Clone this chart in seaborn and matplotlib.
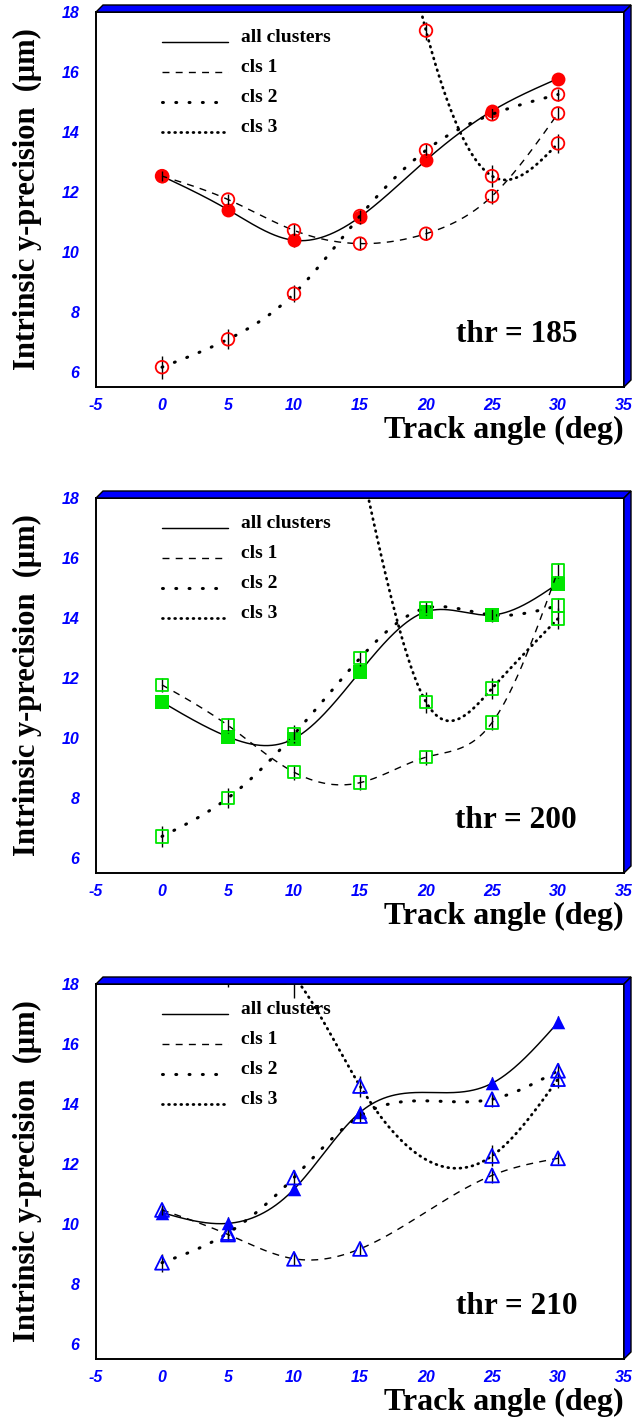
import numpy as np
import pandas as pd
import matplotlib
matplotlib.use("Agg")
import matplotlib.pyplot as plt
import seaborn as sns
from matplotlib.patches import Polygon
from matplotlib.ticker import MultipleLocator

# ---------------------------------------------------------------- data
angles = [0, 5, 10, 15, 20, 25, 30]

# thr = 185
t185_all = [12.53, 11.41, 10.39, 11.17, 13.06, 14.70, 15.78]
t185_all_err = [0.18, 0.20, 0.22, 0.18, 0.18, 0.18, 0.18]
t185_cls1 = [12.53, 11.75, 10.72, 10.28, 10.61, 11.86, 14.62]
t185_cls1_err = [0.18, 0.20, 0.20, 0.22, 0.20, 0.25, 0.20]
t185_cls2 = [6.16, 7.09, 8.61, 11.20, 13.39, 14.59, 15.25]
t185_cls2_err = [0.39, 0.33, 0.28, 0.25, 0.22, 0.20, 0.20]
t185_cls3_x = [15, 20, 25, 30]
t185_cls3 = [28.0, 17.38, 12.53, 13.62]
t185_cls3_err = [2.0, 0.30, 0.36, 0.33]

# thr = 200
t200_all = [11.20, 10.04, 9.98, 12.21, 14.21, 14.10, 15.15]
t200_all_err = [0.20, 0.20, 0.22, 0.20, 0.18, 0.18, 0.20]
t200_cls1 = [11.77, 10.42, 8.86, 8.51, 9.36, 10.51, 15.58]
t200_cls1_err = [0.22, 0.25, 0.25, 0.25, 0.25, 0.25, 0.25]
t200_cls2 = [6.72, 8.00, 10.12, 12.66, 14.33, 14.10, 14.41]
t200_cls2_err = [0.35, 0.32, 0.30, 0.25, 0.22, 0.22, 0.25]
t200_cls3_x = [15, 20, 25, 30]
t200_cls3 = [19.3, 11.20, 11.65, 13.98]
t200_cls3_err = [1.0, 0.35, 0.35, 0.35]

# thr = 210 (no measurement at 20 deg)
t210_x = [0, 5, 10, 15, 25, 30]
t210_all = [10.38, 10.02, 11.16, 13.72, 14.69, 16.72]
t210_all_err = [0.18, 0.20, 0.20, 0.20, 0.20, 0.20]
t210_cls1 = [10.47, 9.65, 8.84, 9.17, 11.62, 12.19]
t210_cls1_err = [0.18, 0.20, 0.20, 0.20, 0.25, 0.20]
t210_cls2 = [8.71, 9.70, 11.55, 13.60, 14.16, 15.11]
t210_cls2_err = [0.30, 0.25, 0.25, 0.22, 0.25, 0.25]
t210_cls3_x = [5, 10, 15, 25, 30]
t210_cls3 = [19.6, 18.25, 14.60, 12.27, 14.83]
t210_cls3_err = [1.7, 0.70, 0.35, 0.35, 0.30]

thresholds = ["185", "200", "210"]
series_names = ["all clusters", "cls 1", "cls 2", "cls 3"]
panel_colors = ["#ff0000", "#00e600", "#0000ff"]
panel_markers = ["o", "s", "^"]

x_ticks = [-5, 0, 5, 10, 15, 20, 25, 30, 35]
y_ticks = [6, 8, 10, 12, 14, 16, 18]

# ---------------------------------------------------------------- style
sns.set_style("white")
plt.rcParams["font.family"] = ["Liberation Serif", "DejaVu Serif"]
plt.rcParams["text.color"] = "black"
plt.rcParams["axes.labelcolor"] = "black"
plt.rcParams["axes.unicode_minus"] = False

FIG_W, FIG_H = 636, 1427
AX_L, AX_R, AX_H = 96, 624, 375
AX_TOPS = [12, 498, 984]
DEPTH = 7
X_LIM = (-5, 35)
Y_LIM = (5.5, 18)

line_styles = {
    "all clusters": dict(ls="-", lw=1.05),
    "cls 1": dict(ls=(0, (5, 4.5)), lw=1.0),
    "cls 2": dict(ls=(0, (0.3, 4.05)), lw=2.2, dash_capstyle="round"),
    "cls 3": dict(ls=(0, (0.3, 1.9)), lw=2.0, dash_capstyle="round"),
}


def natural_spline(t, v, tt):
    """Natural cubic spline through (t, v), evaluated at tt."""
    t = np.asarray(t, float)
    v = np.asarray(v, float)
    n = len(t)
    if n < 3:
        return np.interp(tt, t, v)
    h = np.diff(t)
    A = np.zeros((n, n))
    b = np.zeros(n)
    A[0, 0] = A[-1, -1] = 1.0
    for i in range(1, n - 1):
        A[i, i - 1] = h[i - 1]
        A[i, i] = 2 * (h[i - 1] + h[i])
        A[i, i + 1] = h[i]
        b[i] = 6 * ((v[i + 1] - v[i]) / h[i] - (v[i] - v[i - 1]) / h[i - 1])
    M = np.linalg.solve(A, b)
    idx = np.clip(np.searchsorted(t, tt, side="right") - 1, 0, n - 2)
    hi = h[idx]
    s = tt - t[idx]
    r = hi - s
    return (M[idx] * r ** 3 / (6 * hi) + M[idx + 1] * s ** 3 / (6 * hi)
            + (v[idx] / hi - M[idx] * hi / 6) * r
            + (v[idx + 1] / hi - M[idx + 1] * hi / 6) * s)


def smooth_curve(x, y):
    """Smooth curve through the measured points."""
    xx = np.linspace(min(x), max(x), 700)
    return pd.DataFrame({"x": xx, "y": natural_spline(x, y, xx)})


panels = [
    dict(thr="185", data=[
        ("all clusters", angles, t185_all, t185_all_err),
        ("cls 1", angles, t185_cls1, t185_cls1_err),
        ("cls 2", angles, t185_cls2, t185_cls2_err),
        ("cls 3", t185_cls3_x, t185_cls3, t185_cls3_err)]),
    dict(thr="200", data=[
        ("all clusters", angles, t200_all, t200_all_err),
        ("cls 1", angles, t200_cls1, t200_cls1_err),
        ("cls 2", angles, t200_cls2, t200_cls2_err),
        ("cls 3", t200_cls3_x, t200_cls3, t200_cls3_err)]),
    dict(thr="210", data=[
        ("all clusters", t210_x, t210_all, t210_all_err),
        ("cls 1", t210_x, t210_cls1, t210_cls1_err),
        ("cls 2", t210_x, t210_cls2, t210_cls2_err),
        ("cls 3", t210_cls3_x, t210_cls3, t210_cls3_err)]),
]

fig = plt.figure(figsize=(FIG_W / 100, FIG_H / 100), dpi=100)


def fx(px):
    return px / FIG_W


def fy(py):
    return 1 - py / FIG_H


tick_font = dict(family="Liberation Sans", weight="bold", style="italic", size=11.5)

for k, panel in enumerate(panels):
    top = AX_TOPS[k]
    ax = fig.add_axes([fx(AX_L), fy(top + AX_H), (AX_R - AX_L) / FIG_W, AX_H / FIG_H])
    color = panel_colors[k]
    marker = panel_markers[k]

    for j, (name, xs, ys, es) in enumerate(panel["data"]):
        curve = smooth_curve(xs, ys)
        base_z = 2 if name == "all clusters" else 4
        sns.lineplot(data=curve, x="x", y="y", ax=ax, estimator=None,
                     color="black", zorder=base_z, **line_styles[name])
        ax.errorbar(xs, ys, yerr=es, fmt="none", ecolor="black", elinewidth=1.0,
                    capsize=0, zorder=base_z + 0.5)
        pts = pd.DataFrame({"x": xs, "y": ys})
        if name == "all clusters":
            sns.scatterplot(data=pts, x="x", y="y", ax=ax, marker=marker,
                            s=100 if marker != "^" else 95, color=color,
                            edgecolor=color, linewidth=0, zorder=base_z + 1)
        else:
            sns.scatterplot(data=pts, x="x", y="y", ax=ax, marker=marker,
                            s=82 if marker != "^" else 100, facecolors="none",
                            edgecolor=color, linewidth=1.3, zorder=base_z + 1)

    # legend block
    for j, name in enumerate(series_names):
        yy = 17 - j
        ax.plot([0, 5], [yy, yy], color="black", **line_styles[name], zorder=6)
        ax.text(6, yy, name, fontsize=14, fontweight="bold", va="baseline",
                ha="left", zorder=6)

    ax.text(31.45, 7.0, f"thr = {panel['thr']}", fontsize=22.5, fontweight="bold",
            ha="right", va="baseline", zorder=6)

    ax.set_xlim(*X_LIM)
    ax.set_ylim(*Y_LIM)
    ax.set_xticks(x_ticks)
    ax.set_yticks(y_ticks)
    ax.xaxis.set_minor_locator(MultipleLocator(1))
    ax.yaxis.set_minor_locator(MultipleLocator(0.5))
    ax.tick_params(which="both", direction="in", colors="#0000ff",
                   top=False, right=False, width=1.0)
    ax.tick_params(which="major", length=10)
    ax.tick_params(which="minor", length=5)
    ax.tick_params(axis="y", which="major", pad=12)
    ax.tick_params(axis="x", which="major", pad=8)
    for lab in ax.get_xticklabels() + ax.get_yticklabels():
        lab.set_fontfamily(tick_font["family"])
        lab.set_fontweight(tick_font["weight"])
        lab.set_fontstyle(tick_font["style"])
        lab.set_fontsize(tick_font["size"])
        lab.set_color("#0000ff")
    for sp in ax.spines.values():
        sp.set_color("black")
        sp.set_linewidth(1.4)

    ax.set_xlabel("Track angle (deg)", fontsize=23, fontweight="bold",
                  ha="right", va="baseline")
    ax.xaxis.set_label_coords(1.0, -51 / AX_H)
    ax.set_ylabel("Intrinsic y-precision  (\u03bcm)", fontsize=22,
                  fontweight="bold", va="center", ha="center")
    ax.yaxis.set_label_coords(-69 / (AX_R - AX_L), 0.50)

    # raised frame: top and right bevel
    bot = top + AX_H
    top_band = [(fx(AX_L), fy(top)), (fx(AX_L + DEPTH), fy(top - DEPTH)),
                (fx(AX_R + DEPTH), fy(top - DEPTH)), (fx(AX_R), fy(top))]
    right_band = [(fx(AX_R), fy(top)), (fx(AX_R + DEPTH), fy(top - DEPTH)),
                  (fx(AX_R + DEPTH), fy(bot - DEPTH)), (fx(AX_R), fy(bot))]
    for band in (top_band, right_band):
        fig.add_artist(Polygon(band, closed=True, transform=fig.transFigure,
                               facecolor="#0000ff", edgecolor="black", lw=1.0))

fig.savefig("out.png", dpi=100)
